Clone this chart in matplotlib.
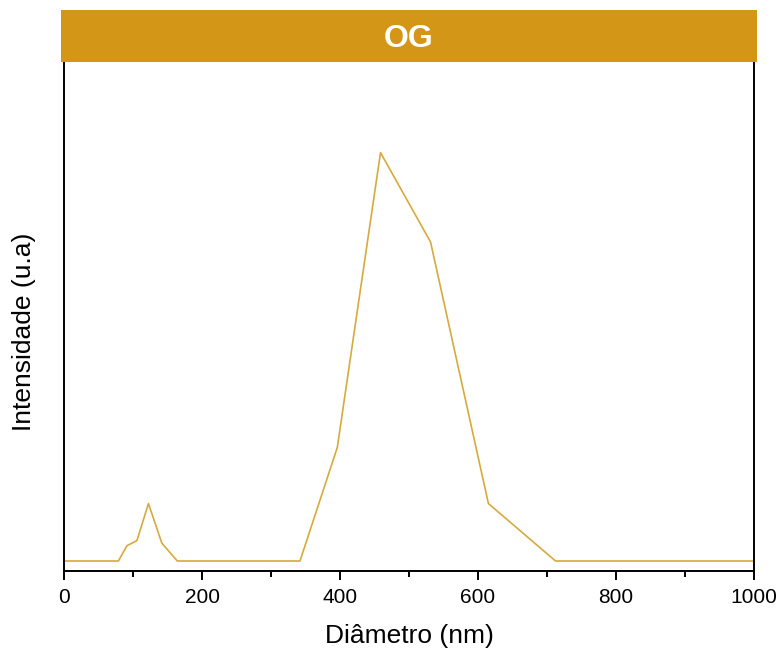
import matplotlib
matplotlib.use("Agg")
import matplotlib.pyplot as plt
from matplotlib.ticker import MultipleLocator

plt.rcParams['font.family'] = ['Liberation Sans', 'DejaVu Sans']

# size distribution (DLS bins)
diametro = [0, 68.1, 78.8, 91.3, 105.7, 122.4, 141.8, 164.2, 190.1, 220.2,
            255.0, 295.3, 342.0, 396.1, 458.7, 531.2, 615.1, 712.4, 825.0,
            955.4, 1000]
intensidade = [0, 0, 0, 1.2, 1.6, 4.5, 1.4, 0, 0, 0,
               0, 0, 0, 8.9, 32.0, 25.0, 4.5, 0, 0,
               0, 0]

cor_linha = "#D6AA3C"
cor_faixa = "#D39616"

fig = plt.figure(figsize=(7.81, 6.53), dpi=100)
ax = fig.add_axes([64/781, 1 - 570.7/653, 690/781, (570.7 - 62)/653])

ax.plot(diametro, intensidade, color=cor_linha, lw=1.2)

ax.set_xlim(0, 1000)
ax.set_ylim(-0.76, 39.1)
ax.xaxis.set_major_locator(MultipleLocator(200))
ax.xaxis.set_minor_locator(MultipleLocator(100))
ax.set_yticks([])
ax.tick_params(axis='x', which='major', direction='out', length=6.5, width=1.4,
               labelsize=15, pad=6)
ax.tick_params(axis='x', which='minor', direction='out', length=4.3, width=1.4)
for s in ax.spines.values():
    s.set_linewidth(1.4)
ax.spines['top'].set_visible(False)

ax.set_xlabel("Diâmetro (nm)", fontsize=19, labelpad=12)
ax.set_ylabel("Intensidade (u.a)", fontsize=19)
ax.yaxis.set_label_coords(-0.041, 0.47)

# title band
banda = fig.add_axes([61/781, 1 - 62/653, 696/781, 52/653])
banda.set_facecolor(cor_faixa)
banda.set_xticks([])
banda.set_yticks([])
for s in banda.spines.values():
    s.set_visible(False)
banda.text(0.5, 0.45, "OG", color="white", fontsize=23, fontweight="bold",
           ha="center", va="center", transform=banda.transAxes)

fig.savefig("out.png", dpi=100)
